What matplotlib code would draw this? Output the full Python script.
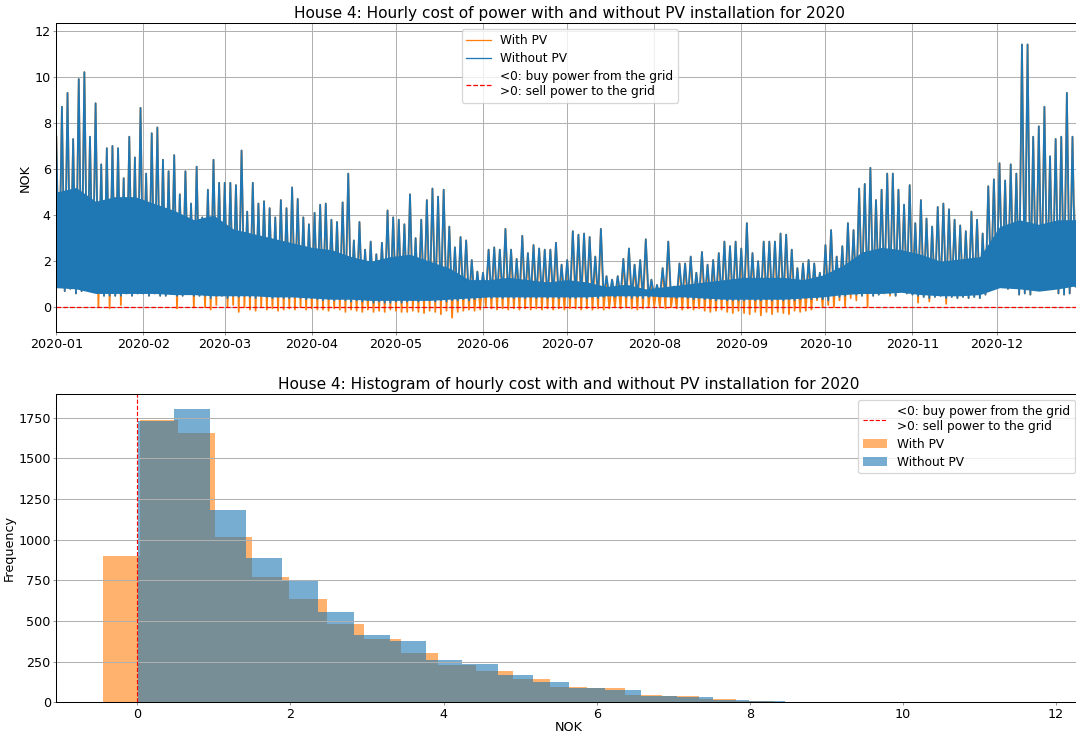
import matplotlib

matplotlib.use('Agg')
import matplotlib.pyplot as plt
import matplotlib.dates as mdates
from matplotlib.lines import Line2D
import numpy as np
import pandas as pd

# Hourly cost at a 2-day step: the peak of the first day,
# then the trough of the second day.
wo_pv_peak = [
    7.4, 8.7, 9.3, 7.3, 9.9, 10.2, 7.4, 8.85, 6.2, 6.9, 7.0,
    6.9, 5.6, 7.4, 6.5, 8.65, 5.8, 7.55, 7.8, 6.4, 5.9,
    6.6, 4.9, 5.9, 4.5, 6.1, 3.9, 5.1, 6.4, 5.4, 5.4,
    5.4, 5.3, 6.8, 4.15, 5.4, 4.5, 4.6, 4.3, 3.9, 4.65,
    4.3, 5.2, 4.7, 3.9, 3.6, 4.1, 4.45, 4.5, 3.8, 3.7,
    4.55, 5.8, 2.9, 3.7, 2.5, 2.85, 2.3, 2.8, 4.2, 3.9, 3.8,
    3.6, 4.9, 3.0, 3.8, 4.65, 5.15, 4.8, 5.1, 3.5, 2.6,
    3.05, 2.9, 2.05, 1.55, 1.5, 2.5, 2.6, 2.5, 3.4, 2.5,
    2.1, 3.1, 2.35, 2.7, 2.55, 2.5, 2.5, 2.8, 1.85, 2.05,
    3.3, 3.15, 3.2, 3.05, 2.2, 3.4, 1.35, 1.2, 1.35, 2.1,
    2.55, 1.85, 2.05, 2.95, 1.2, 0.97, 1.7, 2.85, 0.9, 1.9,
    1.9, 2.2, 1.5, 2.4, 1.85, 2.05, 2.35, 2.85, 2.65, 2.85,
    2.55, 3.65, 2.35, 2.0, 2.85, 2.85, 2.85, 3.2, 3.15, 2.5,
    1.7, 1.9, 2.05, 1.9, 1.5, 2.7, 3.35, 2.2, 2.65, 3.65,
    3.35, 5.15, 5.35, 6.05, 4.65, 5.1, 5.8, 5.8, 5.1, 4.45,
    5.3, 3.65, 4.65, 3.85, 3.5, 4.35, 4.5, 4.25, 3.8, 3.55,
    3.3, 4.15, 3.8, 3.2, 5.25, 5.55, 6.25, 5.5, 6.2, 5.8,
    11.4, 11.4, 7.4, 7.85, 8.7, 6.55, 7.3, 7.4, 9.3, 7.4, 7.1,
]
wo_pv_trough = [
    0.9, 0.7, 0.8, 0.6, 0.7, 0.8, 0.8, 0.7, 0.5, 0.5, 0.5,
    0.5, 0.6, 0.5, 0.6, 0.6, 0.5, 0.6, 0.5, 0.5, 0.6,
    0.5, 0.5, 0.6, 0.5, 0.5, 0.5, 0.4, 0.5, 0.5, 0.4,
    0.5, 0.45, 0.5, 0.45, 0.4, 0.5, 0.45, 0.4, 0.45, 0.4,
    0.4, 0.45, 0.4, 0.35, 0.4, 0.35, 0.3, 0.35, 0.3, 0.35,
    0.3, 0.25, 0.3, 0.25, 0.3, 0.2, 0.25, 0.2, 0.2, 0.25, 0.2,
    0.25, 0.3, 0.25, 0.3, 0.3, 0.25, 0.3, 0.25, 0.3, 0.3,
    0.35, 0.3, 0.35, 0.4, 0.45, 0.4, 0.45, 0.4, 0.45, 0.4,
    0.45, 0.4, 0.45, 0.4, 0.45, 0.4, 0.45, 0.4, 0.45, 0.4,
    0.4, 0.45, 0.4, 0.45, 0.4, 0.45, 0.5, 0.45, 0.5, 0.45,
    0.4, 0.45, 0.4, 0.45, 0.5, 0.45, 0.5, 0.45, 0.4, 0.45,
    0.4, 0.35, 0.4, 0.35, 0.35, 0.3, 0.35, 0.3, 0.3, 0.3,
    0.3, 0.35, 0.3, 0.3, 0.35, 0.3, 0.35, 0.3, 0.35, 0.3,
    0.35, 0.4, 0.35, 0.4, 0.35, 0.3, 0.5, 0.45, 0.5, 0.6,
    0.55, 0.5, 0.6, 0.5, 0.55, 0.7, 0.6, 0.5, 0.7, 0.6,
    0.55, 0.5, 0.45, 0.4, 0.45, 0.5, 0.4, 0.45, 0.4, 0.45,
    0.4, 0.45, 0.4, 0.55, 0.9, 0.85, 0.9, 0.8, 0.85, 0.55,
    0.6, 0.55, 0.9, 0.85, 0.9, 0.8, 0.6, 0.55, 0.6, 0.9, 1.0,
]
w_pv_trough = [
    0.9, 0.7, 0.8, 0.6, 0.7, 0.8, 0.8, 0.0, 0.5, -0.05, 0.5,
    0.1, 0.6, 0.5, 0.6, 0.6, 0.5, 0.6, 0.5, 0.5, 0.6,
    -0.05, 0.5, 0.6, 0.0, 0.5, 0.0, -0.1, 0.1, 0.5, 0.0,
    0.1, -0.2, 0.0, -0.1, -0.15, 0.0, -0.1, -0.05, -0.15, -0.1,
    -0.05, -0.1, 0.0, -0.1, -0.05, -0.1, -0.1, -0.15, -0.05, -0.1,
    -0.2, -0.1, -0.15, -0.2, -0.1, -0.2, -0.15, -0.2, -0.1, -0.15, -0.2,
    -0.2, -0.15, -0.2, -0.25, -0.15, -0.2, -0.3, -0.15, -0.45, -0.2,
    -0.15, -0.1, -0.15, -0.1, 0.05, -0.05, -0.1, -0.05, -0.1, -0.05,
    -0.1, -0.05, -0.1, -0.05, -0.1, -0.05, -0.1, -0.05, -0.1, -0.05,
    -0.05, -0.1, -0.05, -0.1, -0.05, -0.1, -0.05, 0.0, -0.05, 0.0,
    -0.05, -0.1, -0.05, 0.0, 0.05, 0.0, -0.05, 0.0, -0.05, -0.1,
    -0.05, -0.1, -0.05, -0.15, -0.2, -0.15, -0.1, -0.2, -0.25, -0.15,
    -0.25, -0.3, -0.2, -0.35, -0.2, -0.3, -0.2, -0.25, -0.3, -0.15,
    -0.2, -0.15, -0.1, 0.3, 0.0, 0.1, 0.0, 0.3, 0.05, 0.4,
    0.3, 0.5, 0.0, 0.5, 0.55, 0.6, 0.5, 0.5, 0.7, 0.6,
    0.55, 0.2, 0.45, 0.25, 0.45, 0.5, 0.15, 0.45, 0.4, 0.45,
    0.4, 0.45, 0.4, 0.55, 0.9, 0.85, 0.9, 0.8, 0.85, 0.55,
    0.6, 0.55, 0.9, 0.85, 0.9, 0.8, 0.6, 0.55, 0.6, 0.9, 1.0,
]

# Weekly extent of the dense part of the "Without PV" trace (lower and upper edge)
wo_pv_body_low = [
    0.85, 0.8, 0.6, 0.6, 0.6, 0.6, 0.55, 0.55, 0.5, 0.5, 0.5, 0.45, 0.45,
    0.4, 0.35, 0.35, 0.3, 0.3, 0.3, 0.3, 0.35, 0.4, 0.45, 0.45, 0.45, 0.45,
    0.45, 0.45, 0.5, 0.5, 0.5, 0.45, 0.45, 0.4, 0.35, 0.35, 0.35, 0.35, 0.4,
    0.45, 0.55, 0.6, 0.6, 0.65, 0.55, 0.5, 0.5, 0.55, 0.85, 0.8, 0.7, 0.8, 0.95,
]
wo_pv_body_high = [
    5.0, 5.2, 4.6, 4.8, 4.8, 4.5, 4.2, 3.8, 4.0, 3.4, 3.2, 3.0, 2.8,
    2.6, 2.5, 2.2, 2.0, 2.2, 2.3, 2.0, 1.7, 1.2, 1.2, 1.3, 1.2, 1.1,
    1.2, 1.1, 0.9, 1.0, 0.8, 0.9, 1.0, 1.1, 1.2, 1.3, 1.3, 1.3, 1.2,
    1.4, 1.8, 2.4, 2.6, 2.5, 2.3, 2.0, 2.1, 2.2, 3.5, 3.8, 3.6, 3.8, 3.8,
]

# Histogram bins (NOK) and counts (hours)
w_pv_first_edge = -0.446
w_pv_bin_width = 0.4866
w_pv_counts = [900, 1736, 1656, 1017, 771, 635, 482, 389, 303, 231, 192, 143, 94,
               88, 45, 39, 20, 6, 4, 0, 3, 0, 0, 0, 1]
wo_pv_first_edge = 0.01
wo_pv_bin_width = 0.4695
wo_pv_counts = [1728, 1804, 1183, 888, 748, 555, 414, 377, 260, 236, 168, 125, 88,
                76, 38, 33, 14, 5, 4, 0, 0, 0, 0, 2, 1]

GRID_LABEL = "<0: buy power from the grid\n>0: sell power to the grid"
DPI = 92
W, H = 1076, 736


def cost_frame():
    days = pd.date_range('2020-01-01', periods=2 * len(wo_pv_peak), freq='D')
    wo = np.column_stack([wo_pv_peak, wo_pv_trough]).ravel()
    w = np.column_stack([wo_pv_peak, w_pv_trough]).ravel()
    return pd.DataFrame({'With PV': w, 'Without PV': wo}, index=days)


def style_ticks(ax):
    ax.tick_params(length=2.5, pad=1.8, color='0.6')


def graph_hourly(ax, df):
    weeks = pd.date_range('2020-01-01', periods=len(wo_pv_body_high), freq='7D')

    ax.plot(df.index, df['With PV'], color='tab:orange', lw=1.4, zorder=2)
    # the hourly trace is so dense that its core reads as a solid band
    ax.fill_between(weeks, wo_pv_body_low, wo_pv_body_high, color='tab:blue',
                    lw=0, zorder=2.1)
    ax.plot(df.index, df['Without PV'], color='tab:blue', lw=1.4, zorder=2.2)
    ax.axhline(0, color='red', ls='--', lw=1, zorder=2.3)

    ax.set_xlim(pd.Timestamp('2020-01-01'), pd.Timestamp('2020-12-31 23:00'))
    ax.set_ylim(-1.085, 12.32)
    ax.xaxis.set_major_locator(mdates.MonthLocator())
    ax.xaxis.set_major_formatter(mdates.DateFormatter('%Y-%m'))
    ax.grid(True)
    style_ticks(ax)
    ax.set_ylabel('NOK', labelpad=2)
    ax.set_title('House 4: Hourly cost of power with and without PV installation for 2020', pad=4)

    handles = [Line2D([], [], color='tab:orange', lw=1),
               Line2D([], [], color='tab:blue', lw=1),
               Line2D([], [], color='red', ls='--', lw=1)]
    ax.legend(handles, ['With PV', 'Without PV', GRID_LABEL], loc='upper center',
              fontsize=9.5, labelspacing=0.4)


def graph_hist(ax):
    w_edges = w_pv_first_edge + w_pv_bin_width * np.arange(len(w_pv_counts))
    wo_edges = wo_pv_first_edge + wo_pv_bin_width * np.arange(len(wo_pv_counts))

    line = ax.axvline(0, color='red', ls='--', lw=0.9)
    b1 = ax.bar(w_edges, w_pv_counts, width=w_pv_bin_width, align='edge',
                color='tab:orange', alpha=0.6)
    b2 = ax.bar(wo_edges, wo_pv_counts, width=wo_pv_bin_width, align='edge',
                color='tab:blue', alpha=0.6)

    ax.set_xlim(-1.058, 12.326)
    ax.set_ylim(0, 1896)
    ax.grid(True, axis='y')
    style_ticks(ax)
    ax.set_xlabel('NOK', labelpad=0)
    ax.set_ylabel('Frequency', labelpad=2)
    ax.set_title('House 4: Histogram of hourly cost with and without PV installation for 2020', pad=4)
    ax.legend([line, b1, b2], [GRID_LABEL, 'With PV', 'Without PV'], loc='upper right',
              fontsize=9.5, labelspacing=0.4)


def main():
    fig = plt.figure(figsize=(W / DPI, H / DPI), dpi=DPI)

    # axes run slightly past the right edge of the picture, as in the original
    ax_top = fig.add_axes([56.3 / W, 1 - 332.3 / H, 1027.3 / W, 309.0 / H])
    ax_bot = fig.add_axes([56.3 / W, 1 - 702.3 / H, 1024.7 / W, 308.3 / H])

    graph_hourly(ax_top, cost_frame())
    graph_hist(ax_bot)

    fig.savefig('out.png', dpi=DPI)


if __name__ == "__main__":
    main()
